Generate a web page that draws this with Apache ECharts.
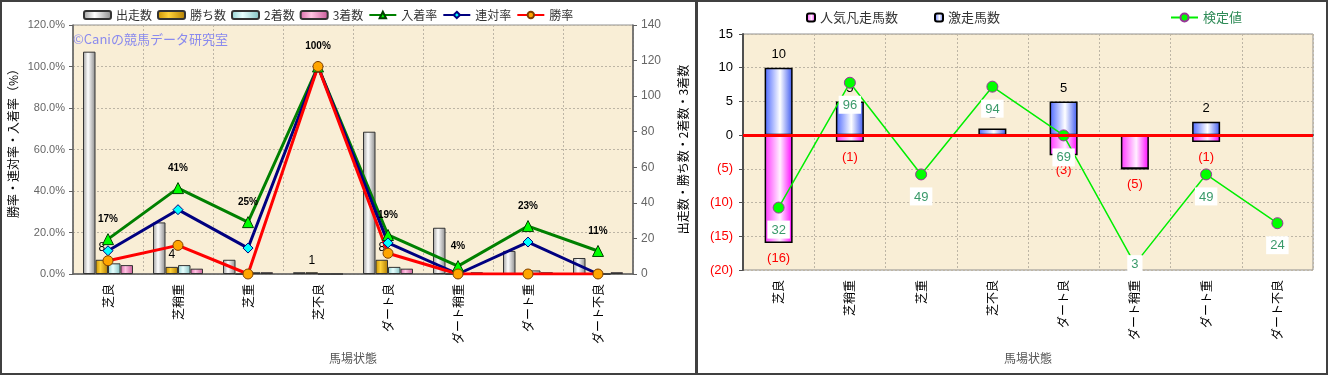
<!DOCTYPE html>
<html><head><meta charset="utf-8">
<script src="https://cdn.jsdelivr.net/npm/echarts@6/dist/echarts.min.js"></script>
<style>html,body{margin:0;padding:0;background:#fff;}#c{width:1328px;height:375px;}</style>
</head><body><div id="c"></div>
<script>
const categories = ['芝良','芝稍重','芝重','芝不良','ダート良','ダート稍重','ダート重','ダート不良'];
// left chart
const starts = [125, 29, 8, 1, 80, 26, 13, 9];
const wins = [8, 4, 0, 1, 8, 0, 0, 0];
const seconds = [6, 5, 1, 0, 4, 0, 2, 0];
const thirds = [5, 3, 1, 0, 3, 1, 1, 1];
const placeRate = [16.8, 41.4, 25.0, 100, 18.8, 3.8, 23.1, 11.1];
const rentaiRate = [11.2, 31.0, 12.5, 100, 15.0, 0, 15.4, 0];
const winRate = [6.4, 13.8, 0, 100, 10.0, 0, 0, 0];
const pctTicks = [0, 20, 40, 60, 80, 100, 120];
const countTicks = [0, 20, 40, 60, 80, 100, 120, 140];
// right chart
const popularFail = [-16, -1, 0, 0, -3, -5, -1, 0];
const longshotRun = [10, 5, 0, 1, 5, 0, 2, 0];
const testValue = [32, 96, 49, 94, 69, 3, 49, 24];
const diffTicks = [-20, -15, -10, -5, 0, 5, 10, 15];

const JP = '"Noto Sans CJK JP", sans-serif';
const NUM = '"Liberation Sans", Arial, sans-serif';
function hgrad(a, b, c, mid) {
  return new echarts.graphic.LinearGradient(0, 0, 1, 0, [
    {offset: 0, color: a}, {offset: mid || 0.45, color: b}, {offset: 1, color: c}]);
}
const bg = '#f9eed6';
const gridLine = {show: true, lineStyle: {color: '#bdb5a5', type: [2, 2], width: 1}};

const chart = echarts.init(document.getElementById('c'), null, {width: 1328, height: 375});
const option = {
  animation: false,
  textStyle: {fontFamily: JP},
  grid: [
    {left: 73, top: 25, width: 560, height: 249, show: true, backgroundColor: bg, borderColor: '#909090', borderWidth: 1},
    {left: 743, top: 34, width: 570, height: 236, show: true, backgroundColor: bg, borderColor: '#909090', borderWidth: 1}
  ],
  legend: [
    {left: 83, top: 9, padding: 0, itemWidth: 27, itemHeight: 8, itemGap: 5,
     data: ['出走数','勝ち数','2着数','3着数','入着率','連対率','勝率'],
     textStyle: {fontSize: 12, color: '#333', fontFamily: JP}},
    {left: 806, top: 11, padding: 0, itemWidth: 8, itemHeight: 8, itemGap: 36,
     data: ['人気凡走馬数','激走馬数'],
     textStyle: {fontSize: 13, color: '#333', fontFamily: JP}},
    {left: 1170, top: 11, padding: 0, itemWidth: 27, itemHeight: 10,
     data: [{name: '検定値', textStyle: {color: '#2e8b57'}}],
     textStyle: {fontSize: 13, fontFamily: JP}}
  ],
  xAxis: [
    {type: 'category', gridIndex: 0, data: categories,
     axisLine: {lineStyle: {color: '#606060', width: 1.5}}, axisTick: {show: false},
     axisLabel: {rotate: 90, interval: 0, fontSize: 12, color: '#000', margin: 10, fontFamily: JP},
     splitLine: gridLine,
     name: '馬場状態', nameLocation: 'middle', nameGap: 78, nameTextStyle: {fontSize: 12, color: '#555', fontFamily: JP}},
    {type: 'category', gridIndex: 1, data: categories,
     axisLine: {lineStyle: {color: '#505050', width: 2}}, axisTick: {show: false},
     axisLabel: {rotate: 90, interval: 0, fontSize: 12, color: '#000', margin: 10, fontFamily: JP},
     splitLine: gridLine,
     name: '馬場状態', nameLocation: 'middle', nameGap: 82, nameTextStyle: {fontSize: 12, color: '#555', fontFamily: JP}}
  ],
  yAxis: [
    {type: 'value', gridIndex: 0, position: 'left', min: pctTicks[0], max: pctTicks[pctTicks.length-1], interval: 20,
     axisLine: {show: true, lineStyle: {color: '#606060', width: 1.5}},
     axisTick: {show: true, length: 4, lineStyle: {color: '#606060'}},
     axisLabel: {formatter: v => v.toFixed(1) + '%', fontSize: 11, color: '#666', margin: 8, fontFamily: NUM},
     splitLine: gridLine,
     name: '勝率・連対率・入着率（%）', nameLocation: 'middle', nameRotate: 90, nameGap: 54,
     nameTextStyle: {fontSize: 12, color: '#000', fontFamily: JP, padding: [0, 0, 0, 18]}},
    {type: 'value', gridIndex: 0, position: 'right', min: countTicks[0], max: countTicks[countTicks.length-1], interval: 20,
     axisLine: {show: true, lineStyle: {color: '#606060', width: 1.5}},
     axisTick: {show: true, length: 4, lineStyle: {color: '#606060'}},
     axisLabel: {fontSize: 12, color: '#666', margin: 8, fontFamily: NUM},
     splitLine: {show: false},
     name: '出走数・勝ち数・2着数・3着数', nameLocation: 'middle', nameRotate: 90, nameGap: 44,
     nameTextStyle: {fontSize: 12, color: '#000', fontFamily: JP}},
    {type: 'value', gridIndex: 1, min: diffTicks[0], max: diffTicks[diffTicks.length-1], interval: 5,
     axisLine: {show: true, lineStyle: {color: '#505050', width: 2}},
     axisTick: {show: true, length: 4, lineStyle: {color: '#505050'}},
     axisLabel: {formatter: v => v < 0 ? '(' + (-v) + ')' : String(v),
                 color: v => Number(v) < 0 ? '#ff0000' : '#000', fontSize: 13, margin: 10, fontFamily: NUM},
     splitLine: gridLine},
    {type: 'value', gridIndex: 1, min: 0, max: 121, show: false, splitLine: {show: false}}
  ],
  series: [
    {name: '出走数', type: 'bar', xAxisIndex: 0, yAxisIndex: 1, data: starts, barWidth: 12.5, barGap: '0%',
     itemStyle: {color: hgrad('#9a9a9a', '#ffffff', '#8a8a8a', 0.4), borderColor: '#333', borderWidth: 1}},
    {name: '勝ち数', type: 'bar', xAxisIndex: 0, yAxisIndex: 1, data: wins, barWidth: 12.5, barGap: '0%',
     itemStyle: {color: hgrad('#c89000', '#ffd23a', '#b07c00', 0.4), borderColor: '#333', borderWidth: 1},
     label: {show: true, position: 'top', distance: 6, formatter: p => p.value ? p.value : '', fontSize: 12, color: '#000', fontFamily: NUM}},
    {name: '2着数', type: 'bar', xAxisIndex: 0, yAxisIndex: 1, data: seconds, barWidth: 12.5, barGap: '0%',
     itemStyle: {color: hgrad('#8fd0d0', '#e8ffff', '#80c0c0', 0.4), borderColor: '#333', borderWidth: 1}},
    {name: '3着数', type: 'bar', xAxisIndex: 0, yAxisIndex: 1, data: thirds, barWidth: 12.5, barGap: '0%',
     itemStyle: {color: hgrad('#d868a8', '#ffc4e2', '#c85898', 0.4), borderColor: '#333', borderWidth: 1}},
    {name: '入着率', type: 'line', xAxisIndex: 0, yAxisIndex: 0, data: placeRate,
     lineStyle: {color: '#008000', width: 3}, symbol: 'triangle', symbolSize: 11,
     itemStyle: {color: '#00ff00', borderColor: '#004000', borderWidth: 1},
     label: {show: true, position: 'top', distance: 9, formatter: p => Math.round(p.value) + '%',
             fontSize: 10, fontWeight: 'bold', color: '#000', fontFamily: NUM}},
    {name: '連対率', type: 'line', xAxisIndex: 0, yAxisIndex: 0, data: rentaiRate,
     lineStyle: {color: '#000080', width: 3}, symbol: 'diamond', symbolSize: 10,
     itemStyle: {color: '#00ffff', borderColor: '#000080', borderWidth: 1}},
    {name: '勝率', type: 'line', xAxisIndex: 0, yAxisIndex: 0, data: winRate,
     lineStyle: {color: '#ff0000', width: 3}, symbol: 'circle', symbolSize: 10,
     itemStyle: {color: '#ffa500', borderColor: '#804000', borderWidth: 1}},
    {name: '人気凡走馬数', type: 'bar', xAxisIndex: 1, yAxisIndex: 2, stack: 'r', data: popularFail, barWidth: 28,
     itemStyle: {color: hgrad('#ff33ff', '#fff0ff', '#ff00ff', 0.55), borderColor: '#000', borderWidth: 1.5},
     label: {show: true, position: 'bottom', distance: 9, formatter: p => p.value ? '(' + (-p.value) + ')' : '',
             fontSize: 13, color: '#ff0000', fontFamily: NUM}},
    {name: '激走馬数', type: 'bar', xAxisIndex: 1, yAxisIndex: 2, stack: 'r', data: longshotRun, barWidth: 28,
     itemStyle: {color: hgrad('#4a66ff', '#ffffff', '#3a56f0', 0.55), borderColor: '#000', borderWidth: 1.5},
     label: {show: true, position: 'top', distance: 7, formatter: p => p.value ? String(p.value) : '',
             fontSize: 13, color: '#000', fontFamily: NUM},
     markLine: {silent: true, symbol: ['none', 'none'], label: {show: false},
                lineStyle: {color: '#ff0000', width: 3, type: 'solid'}, data: [{yAxis: 0}]}},
    {name: '検定値', type: 'line', xAxisIndex: 1, yAxisIndex: 3,
     data: testValue.map((v, i) => i === 5 ? {value: v, label: {position: 'inside'}} : v),
     lineStyle: {color: '#00ee00', width: 1.5}, symbol: 'circle', symbolSize: 11,
     itemStyle: {color: '#00ff00', borderColor: '#993399', borderWidth: 1},
     label: {show: true, position: 'bottom', distance: 7, backgroundColor: '#fff', padding: [3, 4, 2, 4],
             color: '#3a9a6a', fontSize: 13, fontFamily: NUM}}
  ],
  graphic: [
    {type: 'text', left: 73, top: 33, z: 10, style: {text: '©Caniの競馬データ研究室', fill: '#8a8aee', font: '13px ' + JP}},
    {type: 'rect', left: 0, top: 0, shape: {width: 1328, height: 2}, style: {fill: '#404040'}, z: 20},
    {type: 'rect', left: 0, top: 373, shape: {width: 1328, height: 2}, style: {fill: '#404040'}, z: 20},
    {type: 'rect', left: 0, top: 0, shape: {width: 2, height: 375}, style: {fill: '#404040'}, z: 20},
    {type: 'rect', left: 695, top: 0, shape: {width: 3, height: 375}, style: {fill: '#404040'}, z: 20},
    {type: 'rect', left: 1326, top: 0, shape: {width: 2, height: 375}, style: {fill: '#404040'}, z: 20}
  ]
};
chart.setOption(option);
</script></body></html>
